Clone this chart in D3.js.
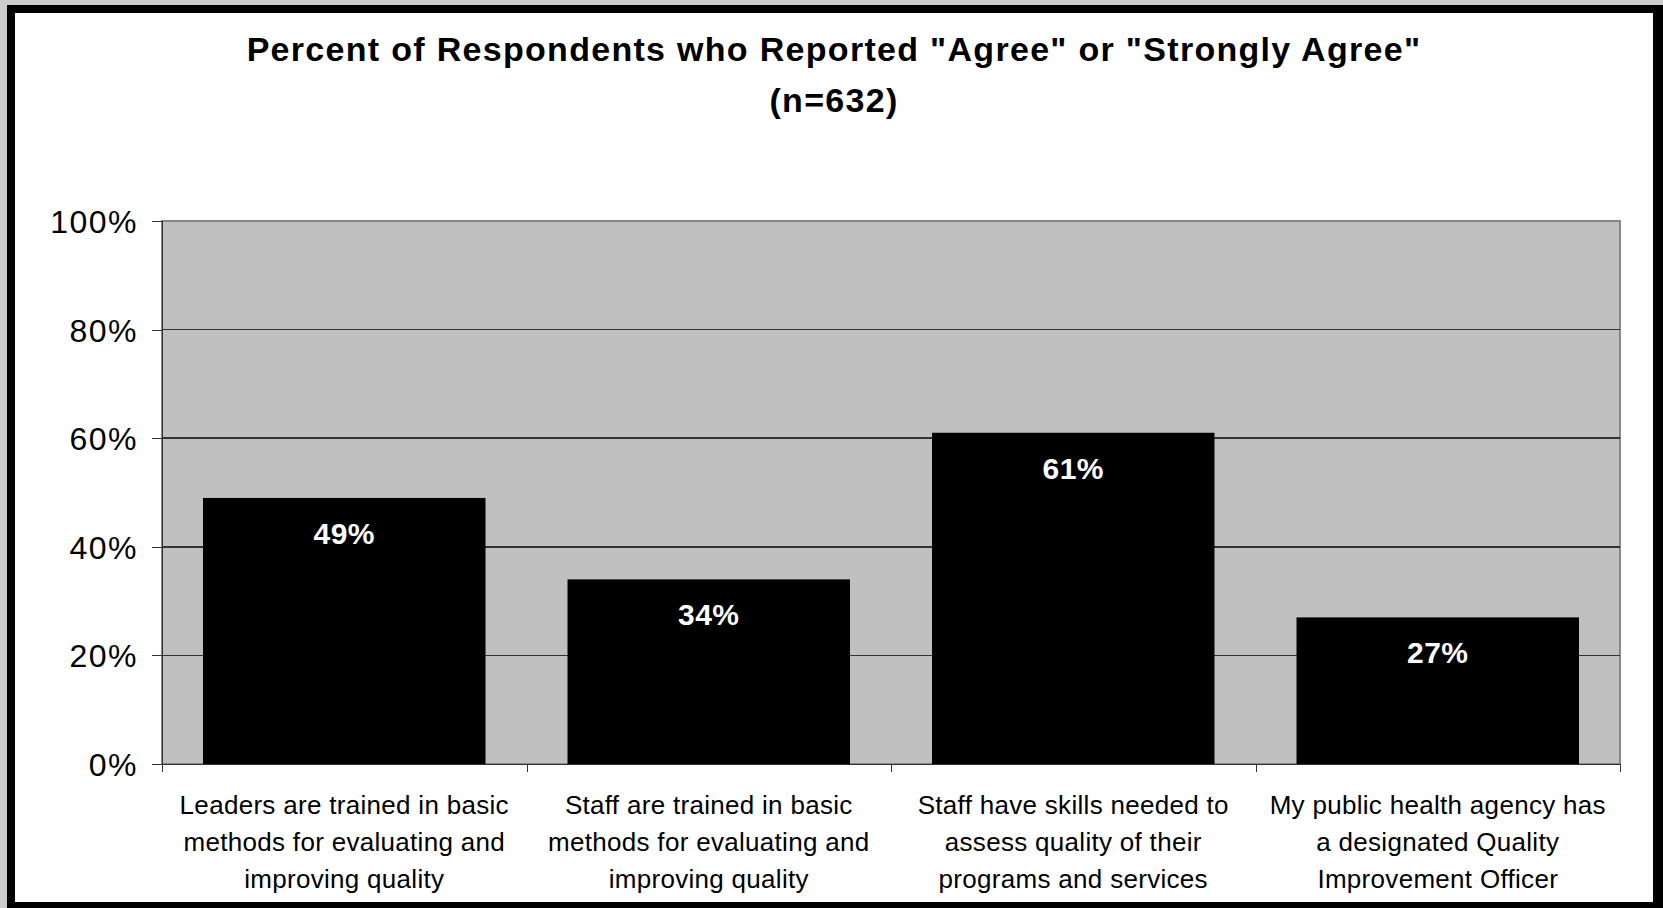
<html>
  <head>
    <meta charset="utf-8">
    <title>agree</title>
    <style>
      body { margin: 0; background: #cccccc; }
      svg { display: block; font-family: "Liberation Sans", Arial, sans-serif; }
      .axis path, .axis line { fill: none; stroke: #333; shape-rendering: crispEdges; }
      .axis text { font-size: 32px; fill: #000; letter-spacing: 1.5px; }
    </style>
  </head>
  <body>
    <script src="https://cdn.jsdelivr.net/npm/d3@7"></script>
    <script>
    var categories = [
      "Leaders are trained in basic\nmethods for evaluating and\nimproving quality",
      "Staff are trained in basic\nmethods for evaluating and\nimproving quality",
      "Staff have skills needed to\nassess quality of their\nprograms and services",
      "My public health agency has\na designated Quality\nImprovement Officer"
    ];
    var values = [0.49, 0.34, 0.61, 0.27];
    var yTicks = [0, 0.2, 0.4, 0.6, 0.8, 1];
    var titleLines = ['Percent of Respondents who Reported "Agree" or "Strongly Agree"', '(n=632)'];

    var width = 1663, height = 908;
    var svg = d3.select('body').append('svg')
      .attr('width', width).attr('height', height);

    // frame
    svg.append('rect').attr('x', 7).attr('y', 5).attr('width', width - 7).attr('height', height - 5)
      .attr('fill', '#000');
    svg.append('rect').attr('x', 15).attr('y', 13).attr('width', 1638).attr('height', 889)
      .attr('fill', '#fff');

    var plotL = 162, plotR = 1620, plotT = 221, plotB = 764;

    var x = d3.scaleBand().domain(categories).range([plotL, plotR])
      .paddingInner(0.225).paddingOuter(0.1125);
    var y = d3.scaleLinear().domain([0, 1]).range([plotB, plotT]);

    // plot area
    svg.append('rect').attr('x', plotL).attr('y', plotT)
      .attr('width', plotR - plotL).attr('height', plotB - plotT)
      .attr('fill', '#c0c0c0').attr('stroke', '#888').attr('stroke-width', 2);

    // gridlines
    svg.append('g').selectAll('line').data(yTicks.slice(1, -1)).enter().append('line')
      .attr('x1', plotL).attr('x2', plotR)
      .attr('y1', d => y(d)).attr('y2', d => y(d))
      .attr('stroke', '#333').attr('stroke-width', 1.5)
      .attr('shape-rendering', 'crispEdges');

    // bars
    svg.append('g').selectAll('rect').data(values).enter().append('rect')
      .attr('x', (d, i) => x(categories[i]))
      .attr('y', d => y(d))
      .attr('width', x.bandwidth())
      .attr('height', d => plotB - y(d))
      .attr('fill', '#000');

    svg.append('g').selectAll('text').data(values).enter().append('text')
      .attr('x', (d, i) => x(categories[i]) + x.bandwidth() / 2)
      .attr('y', d => y(d) + 46)
      .attr('text-anchor', 'middle')
      .attr('font-size', 30).attr('font-weight', 'bold').attr('fill', '#fff')
      .attr('letter-spacing', 0.5)
      .text(d => d3.format('.0%')(d));

    // y axis
    svg.append('g').attr('class', 'axis')
      .attr('transform', 'translate(' + plotL + ',0)')
      .call(d3.axisLeft(y).tickValues(yTicks).tickSize(10).tickPadding(14).tickFormat(d3.format('.0%')))
      .call(g => g.selectAll('text').attr('dy', '0.36em'));

    // x axis (ticks between categories)
    var xb = d3.scaleLinear().domain([0, categories.length]).range([plotL, plotR]);
    svg.append('g').attr('class', 'axis')
      .attr('transform', 'translate(0,' + plotB + ')')
      .call(d3.axisBottom(xb).ticks(categories.length).tickSize(8).tickFormat(''));

    // category labels
    var lab = svg.append('g').selectAll('text').data(categories).enter().append('text')
      .attr('text-anchor', 'middle').attr('font-size', 26).attr('fill', '#000')
      .attr('letter-spacing', 0.3);
    lab.each(function(d) {
      var t = d3.select(this);
      d.split('\n').forEach(function(line, j) {
        t.append('tspan').attr('x', x(d) + x.bandwidth() / 2)
          .attr('y', 814 + j * 37).text(line);
      });
    });

    // title
    svg.append('g').selectAll('text').data(titleLines).enter().append('text')
      .attr('x', 834).attr('y', (d, i) => 61 + i * 51)
      .attr('text-anchor', 'middle').attr('font-size', 34).attr('font-weight', 'bold')
      .attr('letter-spacing', 1.3)
      .text(d => d);
    </script>
  </body>
</html>
